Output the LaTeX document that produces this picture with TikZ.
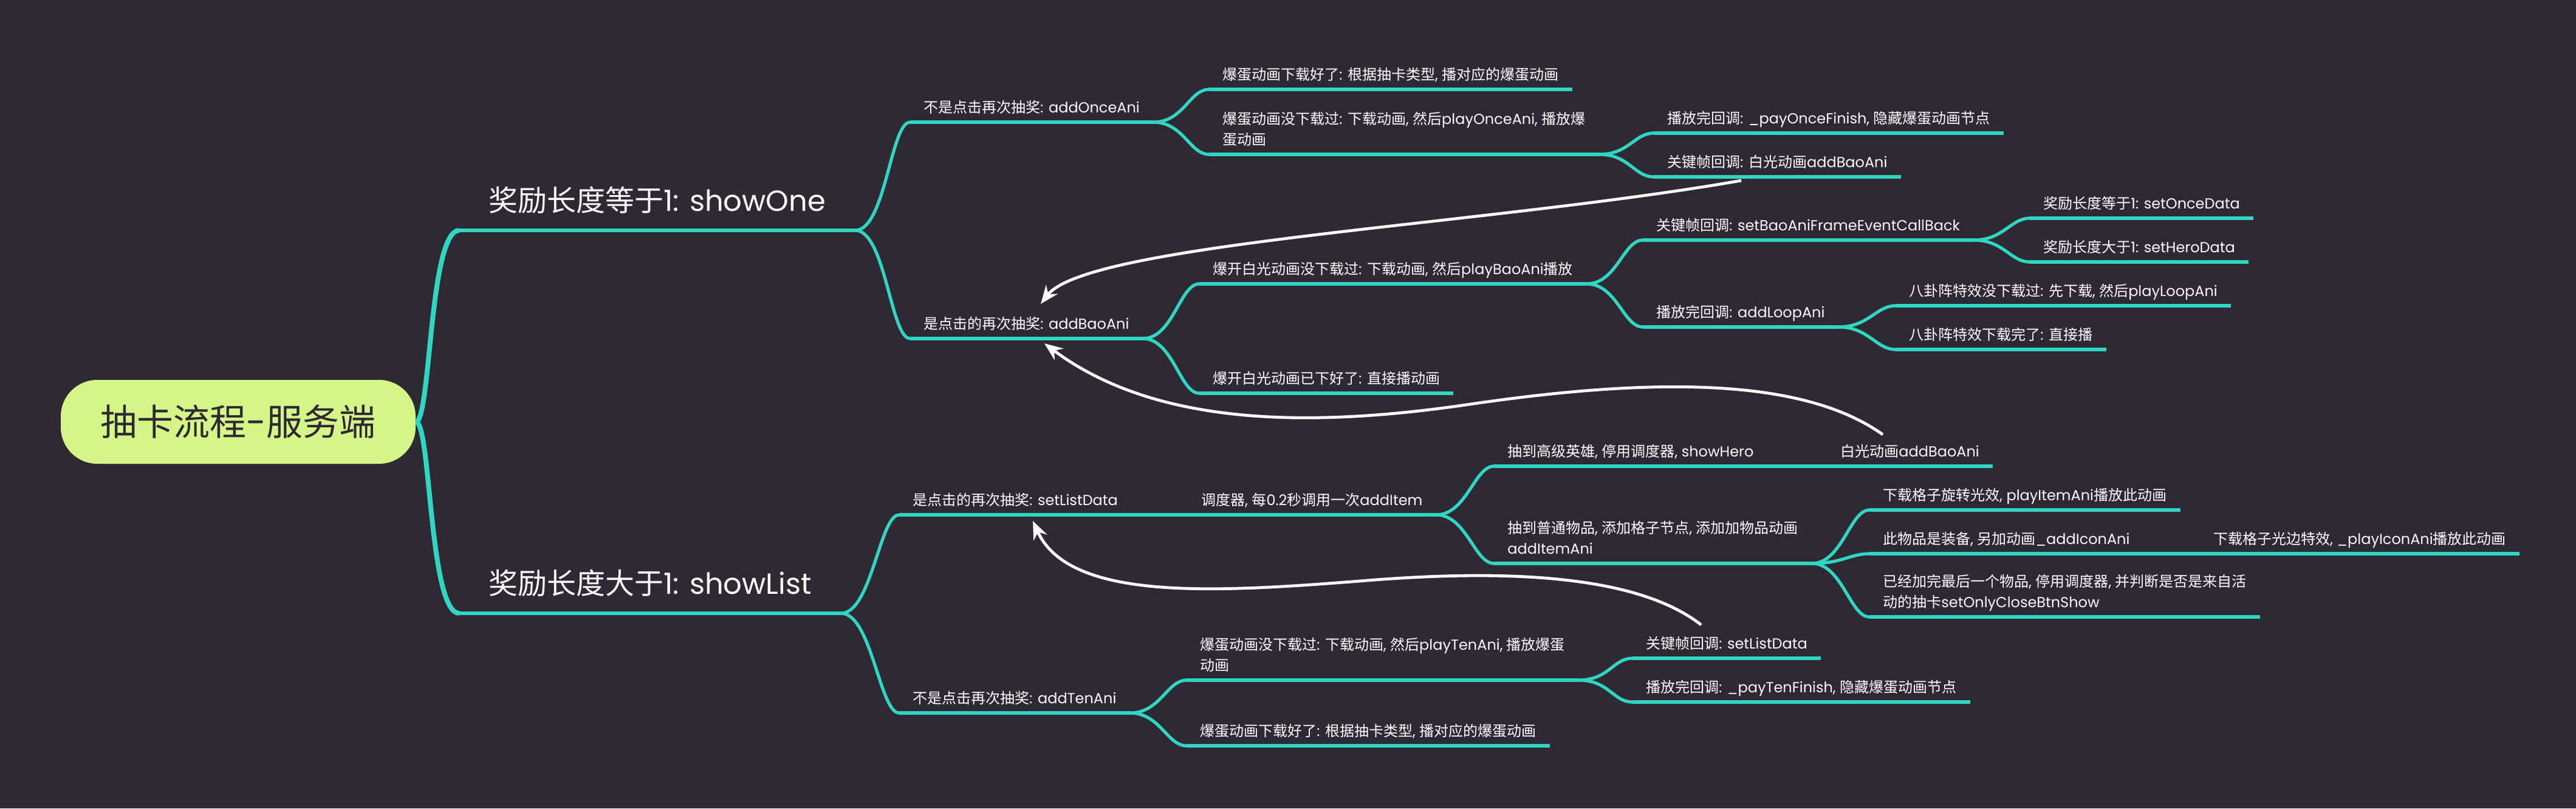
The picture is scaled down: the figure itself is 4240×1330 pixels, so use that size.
\documentclass[tikz,border=0pt]{standalone}
\usepackage{fontspec}
\setmainfont{Poppins}
\newfontfamily\cjkfont{Noto Sans CJK SC}
\XeTeXinterchartokenstate=1
\newXeTeXintercharclass\cjkclass
\newcount\cjkcount
\cjkcount="4E00
\loop
  \XeTeXcharclass\cjkcount=\cjkclass
\ifnum\cjkcount<"9FFF
  \advance\cjkcount by 1
\repeat
\XeTeXinterchartoks 0 \cjkclass = {\begingroup\cjkfont}
\XeTeXinterchartoks 4095 \cjkclass = {\begingroup\cjkfont}
\XeTeXinterchartoks \cjkclass 0 = {\endgroup}
\XeTeXinterchartoks \cjkclass 4095 = {\endgroup}
\usetikzlibrary{calc,arrows.meta}
\definecolor{bgdark}{HTML}{2F2933}
\definecolor{mmteal}{HTML}{2FD6C2}
\definecolor{rootgreen}{HTML}{D4F688}
\begin{document}
\begin{tikzpicture}[x=0.5pt,y=-0.5pt,
    rootbox/.style={fill=rootgreen, text=bgdark, rounded corners=30pt, minimum width=292pt, minimum height=69pt, font=\fontsize{30}{36}\selectfont},
    maintopic/.style={anchor=south west, text=white, inner xsep=24pt, inner ysep=0pt, text depth=15.5pt, font=\fontsize{24}{30}\selectfont},
    subtopic/.style={anchor=south west, align=left, text=white, inner xsep=11pt, inner ysep=0pt, text depth=7.5pt, font=\fontsize{12}{17}\selectfont},
    uline/.style={draw=mmteal, line width=2.6pt},
    mainline/.style={draw=mmteal, line width=3pt},
    trunk/.style={draw=mmteal, line width=4pt, to path={.. controls ($(\tikztostart)+(25,0)$) and ($(\tikztotarget)+(-50,0)$) .. (\tikztotarget)}},
    fork/.style={draw=mmteal, line width=2.6pt, to path={.. controls ($(\tikztostart)+(50,0)$) and ($(\tikztotarget)+(-32,0)$) .. (\tikztotarget)}},
    relation/.style={draw=white, line width=2.4pt, -{Stealth[length=15pt,width=12pt]}}]
    \useasboundingbox (0,0) rectangle (4240,1330);
    \fill[bgdark] (0,0) rectangle (4240,1330);

    \node[rootbox] (root) at (392,694) {抽卡流程-服务端};
    \node[maintopic] (one) at (756,379) {奖励长度等于1: showOne};
    \node[maintopic] (list) at (756,1009) {奖励长度大于1: showList};

    \node[subtopic] (once) at (1498,201) {不是点击再次抽奖: addOnceAni};
    \node[subtopic] (onceOK) at (1990,147) {爆蛋动画下载好了: 根据抽卡类型, 播对应的爆蛋动画};
    \node[subtopic] (onceNo) at (1990,254) {爆蛋动画没下载过: 下载动画, 然后playOnceAni, 播放爆\\蛋动画};
    \node[subtopic] (payOnce) at (2722,219) {播放完回调: \_payOnceFinish, 隐藏爆蛋动画节点};
    \node[subtopic] (kWhite) at (2722,291) {关键帧回调: 白光动画addBaoAni};
    \node[subtopic] (baoAni) at (1498,557) {是点击的再次抽奖: addBaoAni};
    \node[subtopic] (baoNo) at (1974,467) {爆开白光动画没下载过: 下载动画, 然后playBaoAni播放};
    \node[subtopic] (baoOK) at (1974,647) {爆开白光动画已下好了: 直接播动画};
    \node[subtopic] (setBao) at (2704,395) {关键帧回调: setBaoAniFrameEventCallBack};
    \node[subtopic] (setOnce) at (3341,359) {奖励长度等于1: setOnceData};
    \node[subtopic] (setHero) at (3341,431) {奖励长度大于1: setHeroData};
    \node[subtopic] (loop) at (2704,538) {播放完回调: addLoopAni};
    \node[subtopic] (bgNo) at (3120,503) {八卦阵特效没下载过: 先下载, 然后playLoopAni};
    \node[subtopic] (bgOK) at (3120,575) {八卦阵特效下载完了: 直接播};

    \node[subtopic] (listData) at (1480,847) {是点击的再次抽奖: setListData};
    \node[subtopic] (sched) at (1955,847) {调度器, 每0.2秒调用一次addItem};
    \node[subtopic] (hero) at (2459,767) {抽到高级英雄, 停用调度器, showHero};
    \node[subtopic] (heroWhite) at (3007,767) {白光动画addBaoAni};
    \node[subtopic] (common) at (2459,927) {抽到普通物品, 添加格子节点, 添加加物品动画\\addItemAni};
    \node[subtopic] (spin) at (3077,839) {下载格子旋转光效, playItemAni播放此动画};
    \node[subtopic] (equip) at (3077,911) {此物品是装备, 另加动画\_addIconAni};
    \node[subtopic] (glow) at (3621,911) {下载格子光边特效, \_playIconAni播放此动画};
    \node[subtopic] (last) at (3077,1015) {已经加完最后一个物品, 停用调度器, 并判断是否是来自活\\动的抽卡setOnlyCloseBtnShow};
    \node[subtopic] (tenAni) at (1480,1173) {不是点击再次抽奖: addTenAni};
    \node[subtopic] (tenNo) at (1953,1119) {爆蛋动画没下载过: 下载动画, 然后playTenAni, 播放爆蛋\\动画};
    \node[subtopic] (tenOK) at (1953,1227) {爆蛋动画下载好了: 根据抽卡类型, 播对应的爆蛋动画};
    \node[subtopic] (kList) at (2687,1083) {关键帧回调: setListData};
    \node[subtopic] (payTen) at (2687,1155) {播放完回调: \_payTenFinish, 隐藏爆蛋动画节点};

    \foreach \n in {one,list}
        \draw[mainline] (\n.south west) -- (\n.south east);
    \foreach \n in {once,onceOK,onceNo,payOnce,kWhite,baoAni,baoNo,baoOK,setBao,setOnce,setHero,loop,bgNo,bgOK,listData,sched,hero,heroWhite,common,spin,equip,glow,last,tenAni,tenNo,tenOK,kList,payTen}
        \draw[uline] (\n.south west) -- (\n.south east);

    \draw[trunk] (root.east) to (one.south west);
    \draw[trunk] (root.east) to (list.south west);
    \foreach \a/\b in {one/once,one/baoAni,once/onceOK,once/onceNo,onceNo/payOnce,onceNo/kWhite,baoAni/baoNo,baoAni/baoOK,baoNo/setBao,baoNo/loop,setBao/setOnce,setBao/setHero,loop/bgNo,loop/bgOK,list/listData,list/tenAni,sched/hero,sched/common,common/spin,common/equip,common/last,tenAni/tenNo,tenAni/tenOK,tenNo/kList,tenNo/payTen}
        \draw[fork] (\a.south east) to (\b.south west);
    \foreach \a/\b in {listData/sched,hero/heroWhite,equip/glow}
        \draw[uline] (\a.south east) -- (\b.south west);

    \draw[relation] ($(kWhite.south west)+(144,6)$) .. controls (2450,370) and (1790,400) .. ($(baoAni.south west)+(215,-57)$);
    \draw[relation] ($(heroWhite.south west)+(92,-52)$) .. controls (2980,630) and (2760,615) .. (2420,665) .. controls (2150,705) and (1900,700) .. ($(baoAni.south west)+(221,8)$);
    \draw[relation] ($(kList.south west)+(113,-55)$) .. controls (2700,950) and (2500,935) .. (2250,955) .. controls (2000,975) and (1760,990) .. ($(listData.south west)+(220,10)$);
\end{tikzpicture}
\end{document}
